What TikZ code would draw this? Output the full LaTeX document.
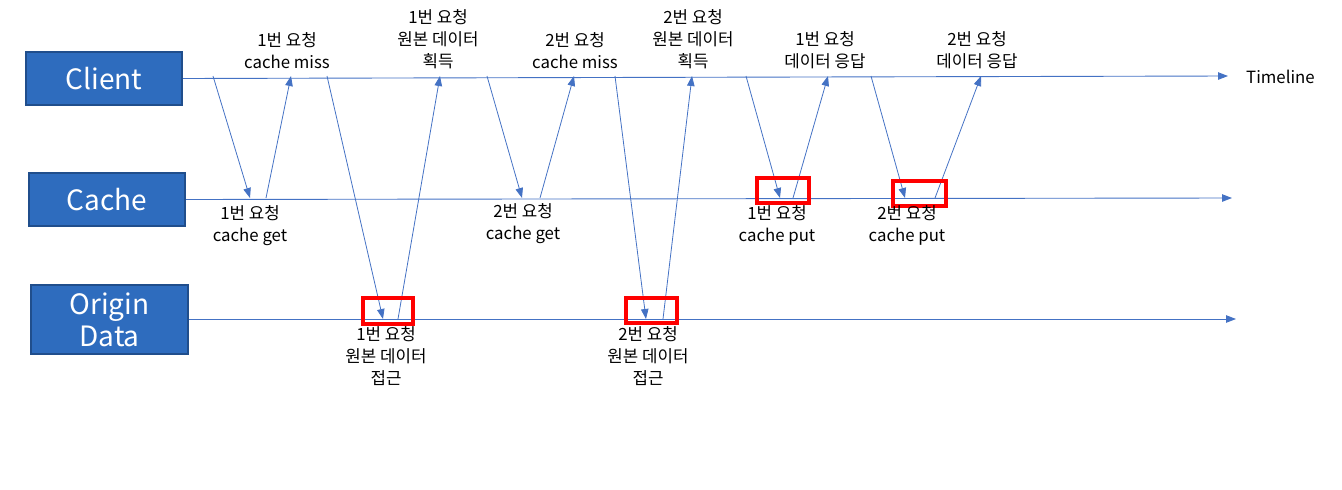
\documentclass[tikz,border=0pt]{standalone}
\usepackage{fontspec}
\setmainfont{Noto Sans CJK KR}
\usetikzlibrary{arrows.meta}
\definecolor{boxfill}{RGB}{46,108,190}
\definecolor{boxline}{RGB}{32,78,140}
\definecolor{arr}{RGB}{68,114,196}
\tikzset{
  actor/.style={draw=boxline,line width=2pt,fill=boxfill,text=white,font=\fontsize{28}{30}\selectfont,inner sep=0pt,anchor=north west,align=center},
  tl/.style={draw=arr,line width=0.9pt,-{Triangle[length=10pt,width=7.5pt]}},
  msg/.style={draw=arr,line width=0.8pt,-{Triangle[length=10pt,width=7.5pt]}},
  hl/.style={draw=red,line width=3.5pt},
  lbl/.style={font=\fontsize{16.8}{22}\selectfont,align=center,inner sep=0pt}
}
\begin{document}
\begin{tikzpicture}[x=1pt,y=-1pt]
\useasboundingbox (0,0) rectangle (1342,490);
% actors
\node[actor,minimum width=156pt,minimum height=53pt] (client) at (25,51) {Client};
\node[actor,minimum width=156pt,minimum height=53pt] (cache) at (28,172) {Cache};
\node[actor,minimum width=157pt,minimum height=69pt,font=\fontsize{28}{32}\selectfont] (origin) at (30,284) {Origin\\Data};
% timeline ends
\coordinate (ce) at (1228,76);
\coordinate (ke) at (1232,198);
\coordinate (oe) at (1236,319);
\draw[tl] (client.east) -- (ce);
\draw[tl] (cache.east) -- (ke);
\draw[tl] (origin.east |- 0,319) -- (oe);
\node[lbl,anchor=west] (tlabel) at (1246,77) {Timeline};
% points on lines
\foreach \n/\x in {c1/213,c2/291,c3/327,c4/440,c5/487,c6/574,c7/615,c8/692,c9/746,c10/828,c11/871,c12/981}
  \coordinate (\n) at (\x,76);
\foreach \n/\x in {k1/250,k2/266,k5/522,k6/540,k9/780,k10/793,k11/905,k12/935}
  \coordinate (\n) at (\x,198);
\foreach \n/\x in {o3/383,o4/398,o7/646,o8/663}
  \coordinate (\n) at (\x,319);
% messages
\draw[msg] (c1) -- (k1);
\draw[msg] (k2) -- (c2);
\draw[msg] (c3) -- (o3);
\draw[msg] (o4) -- (c4);
\draw[msg] (c5) -- (k5);
\draw[msg] (k6) -- (c6);
\draw[msg] (c7) -- (o7);
\draw[msg] (o8) -- (c8);
\draw[msg] (c9) -- (k9);
\draw[msg] (k10) -- (c10);
\draw[msg] (c11) -- (k11);
\draw[msg] (k12) -- (c12);
% highlight boxes
\draw[hl] (757,178) rectangle (809,203);
\draw[hl] (893,181) rectangle (946,206);
\draw[hl] (363,298) rectangle (413,324);
\draw[hl] (626,298) rectangle (677,323);
% labels above client line
\node[lbl,anchor=south] (l1) at (287,69) {1번 요청\\cache miss};
\node[lbl,anchor=south] (l2) at (438,69) {1번 요청\\원본 데이터\\획득};
\node[lbl,anchor=south] (l3) at (575,69) {2번 요청\\cache miss};
\node[lbl,anchor=south] (l4) at (693,69) {2번 요청\\원본 데이터\\획득};
\node[lbl,anchor=south] (l5) at (825,69) {1번 요청\\데이터 응답};
\node[lbl,anchor=south] (l6) at (977,69) {2번 요청\\데이터 응답};
% labels below cache line
\node[lbl,anchor=north] (l7) at (250,205) {1번 요청\\cache get};
\node[lbl,anchor=north] (l8) at (523,203) {2번 요청\\cache get};
\node[lbl,anchor=north] (l9) at (777,205) {1번 요청\\cache put};
\node[lbl,anchor=north] (l10) at (907,205) {2번 요청\\cache put};
% labels below origin line
\node[lbl,anchor=north] (l11) at (386,326) {1번 요청\\원본 데이터\\접근};
\node[lbl,anchor=north] (l12) at (648,326) {2번 요청\\원본 데이터\\접근};
\end{tikzpicture}
\end{document}
